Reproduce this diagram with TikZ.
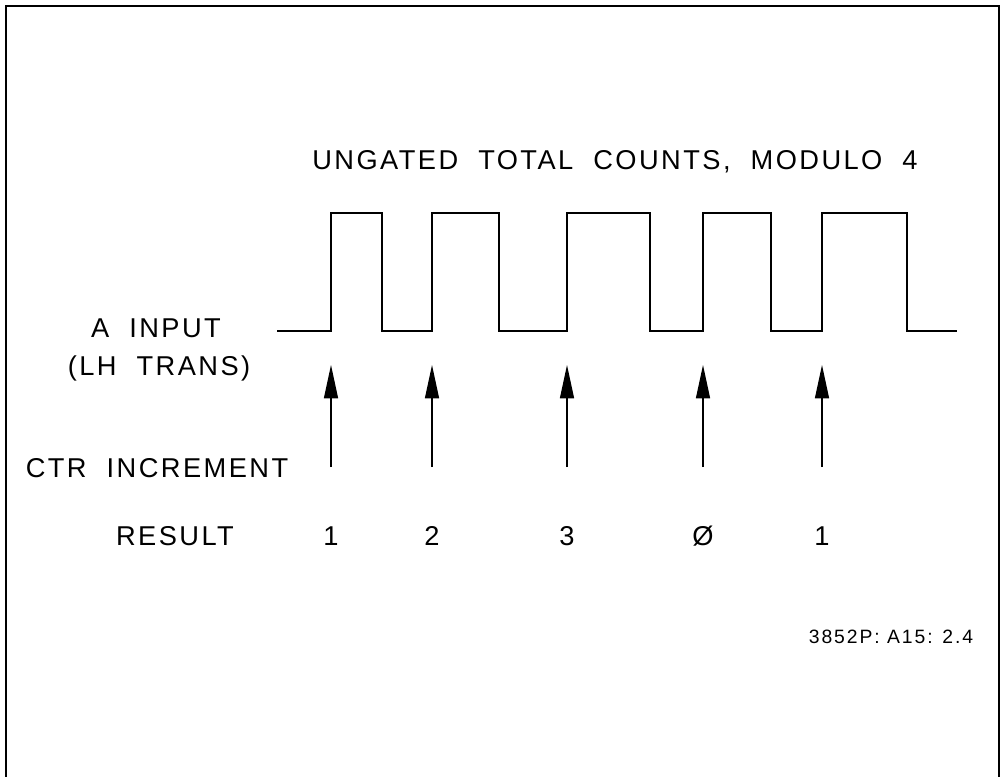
\documentclass[tikz,border=0pt]{standalone}
\usepackage{fontspec}
\usepackage{tikz}
\usetikzlibrary{arrows.meta}
\newfontfamily\plotfont{Liberation Sans}[LetterSpace=9,WordSpace=2]
\newfontfamily\tagfont{Liberation Sans}[LetterSpace=10]

\begin{document}
\begin{tikzpicture}[x=0.02cm,y=-0.02cm,
		lbl/.style={font=\plotfont\fontsize{15.5}{18}\selectfont, inner sep=0pt},
		incr/.style={line width=0.7pt, -{Triangle[length=19pt,width=8pt]}}]
		% Page and open frame
		\useasboundingbox (0,0) rectangle (1001,777);
		\draw[line width=0.8pt] (6,777) -- (6,6) -- (999,6) -- (999,777);
		
		% Title
		\node[lbl] (title) at (615,162) {UNGATED TOTAL COUNTS, MODULO 4};
		
		% Input waveform
		\draw[line width=0.8pt] (277,331) -- (331,331) -- (331,213) -- (382,213) -- (382,331)
			-- (432,331) -- (432,213) -- (499,213) -- (499,331)
			-- (567,331) -- (567,213) -- (650,213) -- (650,331)
			-- (703,331) -- (703,213) -- (771,213) -- (771,331)
			-- (822,331) -- (822,213) -- (907,213) -- (907,331) -- (957,331);
		
		% Row labels
		\node[lbl] (ainput) at (156,328) {A INPUT};
		\node[lbl] (lhtrans) at (159,368) {(LH TRANS)};
		\node[lbl] (ctrinc) at (157,468) {CTR INCREMENT};
		\node[lbl] (result) at (175,536) {RESULT};
		
		% Counter increments and results
		\foreach \x/\n [count=\i] in {331/1, 432/2, 567/3, 703/Ø, 822/1} {
			\coordinate (tail\i) at (\x,467);
			\coordinate (tip\i) at (\x,365);
			\draw[incr] (tail\i) -- (tip\i);
			\node[lbl] (res\i) at (\x,536) {\n};
		}
		
		% Figure tag
		\node[font=\tagfont\fontsize{11}{13}\selectfont, inner sep=0pt] (tag) at (891,637) {3852P: A15: 2.4};
	\end{tikzpicture}
\end{document}
